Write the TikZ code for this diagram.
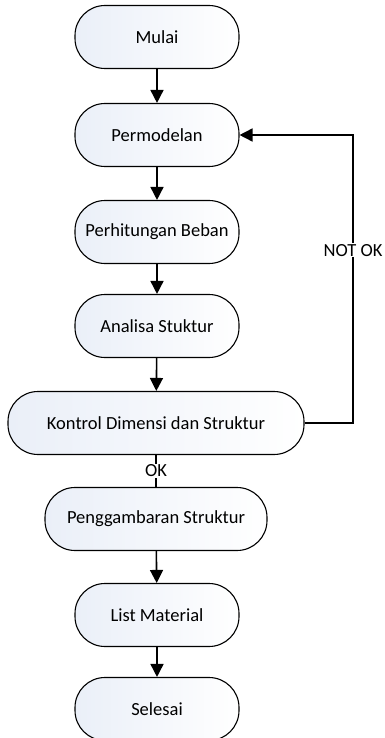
\documentclass[tikz,border=0pt]{standalone}
\usepackage{fontspec}
\setmainfont{Carlito}
\usetikzlibrary{arrows.meta}
\definecolor{boxfill}{HTML}{EAEFF8}
\begin{document}
\begin{tikzpicture}[x=1pt, y=-1pt, >={Triangle[width=13pt,length=13pt]},
    proc/.style={draw, line width=1.1pt, rounded corners=30pt, minimum height=63pt,
        minimum width=164pt, left color=boxfill, right color=white, font=\fontsize{18.5}{20}\selectfont},
    flow/.style={->, line width=1.6pt},
    lbl/.style={fill=white, inner sep=1pt, font=\fontsize{18.5}{20}\selectfont}]
\useasboundingbox (0,0) rectangle (385,738);
\node[proc] (mulai) at (157,37) {Mulai};
\node[proc] (model) at (157,135) {Permodelan};
\node[proc] (beban) at (157,232) {Perhitungan Beban};
\node[proc] (analisa) at (157,326) {Analisa Stuktur};
\node[proc, minimum width=296pt] (kontrol) at (156,423) {Kontrol Dimensi dan Struktur};
\node[proc, minimum width=222pt] (gambar) at (156,519) {Penggambaran Struktur};
\node[proc] (list) at (157,615) {List Material};
\node[proc] (selesai) at (157,709) {Selesai};
\coordinate (balik) at (353,135);
\draw[flow] (mulai) -- (model);
\draw[flow] (model) -- (beban);
\draw[flow] (beban) -- (analisa);
\draw[flow] (analisa) -- (kontrol);
\draw[line width=1.6pt] (kontrol) -- node[lbl]{OK} (gambar);
\draw[flow] (gambar) -- (list);
\draw[flow] (list) -- (selesai);
\draw[flow] (kontrol.east) -| node[lbl, pos=.8]{NOT OK} (balik) -- (model.east);
\end{tikzpicture}
\end{document}
